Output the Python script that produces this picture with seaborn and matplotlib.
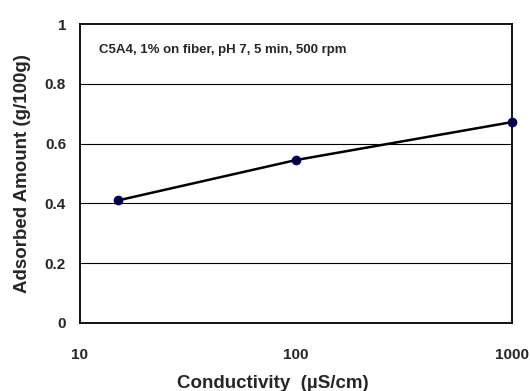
import matplotlib
matplotlib.use("Agg")
import matplotlib.pyplot as plt
import seaborn as sns
import pandas as pd
from matplotlib.ticker import FixedLocator, FixedFormatter, NullLocator

conductivity = [15, 100, 1000]
adsorbed = [0.41, 0.545, 0.672]
x_ticks = [10, 100, 1000]
x_tick_labels = ["10", "100", "1000"]
y_ticks = [0, 0.2, 0.4, 0.6, 0.8, 1.0]
y_tick_labels = ["0", "0.2", "0.4", "0.6", "0.8", "1"]
annotation = "C5A4, 1% on fiber, pH 7, 5 min, 500 rpm"

sns.set_style("white")
plt.rcParams['font.family'] = ['Liberation Sans', 'DejaVu Sans']

df = pd.DataFrame({"Conductivity": conductivity, "Adsorbed": adsorbed})

fig = plt.figure(figsize=(5.30, 3.91), dpi=100)
ax = fig.add_axes([80/530, 1 - 323/391, 432/530, 299/391])

ax.set_xscale("log")
ax.set_xlim(10, 1000)
ax.set_ylim(0, 1)

for y in y_ticks[1:-1]:
    ax.axhline(y, color="black", lw=0.8, zorder=1)

sns.lineplot(data=df, x="Conductivity", y="Adsorbed", ax=ax, color="black",
             lw=1.8, marker="o", markersize=6, markerfacecolor="#000022",
             markeredgecolor="#000080", markeredgewidth=1.0, clip_on=False, zorder=3)

ax.xaxis.set_major_locator(FixedLocator(x_ticks))
ax.xaxis.set_major_formatter(FixedFormatter(x_tick_labels))
ax.xaxis.set_minor_locator(NullLocator())
ax.set_yticks(y_ticks)
ax.set_yticklabels(y_tick_labels)

for s in ax.spines.values():
    s.set_color("black")
    s.set_linewidth(1.3)

ax.tick_params(axis="both", which="major", direction="out", length=4, width=1,
               color="black", labelsize=11)
ax.tick_params(axis="x", pad=14)
ax.tick_params(axis="y", pad=6)
for lab in ax.get_xticklabels() + ax.get_yticklabels():
    lab.set_fontweight("bold")

ax.set_xlabel("Conductivity  (\u00b5S/cm)", fontsize=13.5, fontweight="bold")
ax.set_ylabel("Adsorbed Amount (g/100g)", fontsize=13.5, fontweight="bold")
ax.xaxis.set_label_coords((273 - 80) / 432, -(383 - 323) / 299)
ax.yaxis.set_label_coords(-(80 - 22.5) / 432, 0.5)
ax.xaxis.label.set_va("center")
ax.yaxis.label.set_va("center")

ax.text((99 - 80) / 432, 1 - (50 - 24) / 299, annotation, transform=ax.transAxes,
        fontsize=9.5, fontweight="bold", va="center", ha="left")

fig.savefig("out.png", dpi=100)
